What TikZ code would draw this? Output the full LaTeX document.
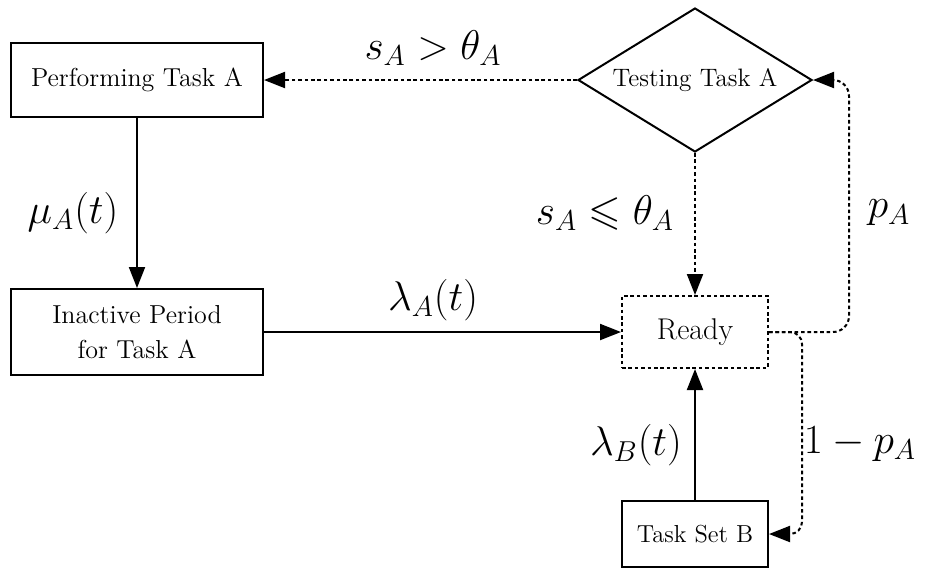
\documentclass[tikz,border=0pt]{standalone}
\usepackage{amsmath,amssymb}
\usetikzlibrary{shapes.geometric,arrows.meta}
\begin{document}
\begin{tikzpicture}[x=0.5pt,y=-0.5pt,
  box/.style={draw,line width=1pt,rectangle,inner sep=0pt,font=\fontsize{13}{17.5}\selectfont,align=center},
  dbox/.style={box,dash pattern=on 1.8pt off 1.4pt},
  dia/.style={draw,line width=1pt,diamond,aspect=1.625,inner sep=0pt,font=\fontsize{12.6}{15}\selectfont},
  arr/.style={line width=1pt,-{Triangle[length=10.5pt,width=8pt]}},
  darr/.style={arr,dash pattern=on 1.8pt off 1.4pt},
  lab/.style={font=\fontsize{21}{25}\selectfont,inner sep=0pt}]
\useasboundingbox (0,0) rectangle (930,570);
\node[box,minimum width=126pt,minimum height=37pt] (perf) at (137,80) {Performing Task A};
\node[box,minimum width=126pt,minimum height=43pt] (inact) at (137,332) {Inactive Period\\for Task A};
\node[dia,minimum width=117pt,minimum height=72pt] (test) at (695,80) {Testing Task A};
\node[dbox,minimum width=73pt,minimum height=36pt,font=\fontsize{15}{18}\selectfont] (ready) at (695,332) {Ready};
\node[box,minimum width=73pt,minimum height=33pt,font=\fontsize{12.3}{15}\selectfont] (tsb) at (695,534) {Task Set B};
\coordinate (c1) at (849,332);
\coordinate (c2) at (802,332);
\draw[arr] (perf.south) -- (inact.north);
\draw[arr] (inact.east) -- (ready.west);
\draw[arr] (tsb.north) -- (ready.south);
\draw[darr] (test.south) -- (ready.north);
\draw[darr] (test.west) -- (perf.east);
\draw[darr,rounded corners=8pt] (ready.east) -- (c1) |- (test.east);
\draw[darr,rounded corners=6pt] (ready.east) -- (c2) |- (tsb.east);
\node[lab] (l1) at (433,48) {$s_A > \theta_A$};
\node[lab] (l2) at (605,213) {$s_A \leqslant \theta_A$};
\node[lab] (l3) at (889,213) {$p_A$};
\node[lab] (l4) at (73,213) {$\mu_A(t)$};
\node[lab] (l5) at (433,300) {$\lambda_A(t)$};
\node[lab] (l6) at (636,445) {$\lambda_B(t)$};
\node[lab] (l7) at (860,444) {$1-p_A$};
\end{tikzpicture}
\end{document}
